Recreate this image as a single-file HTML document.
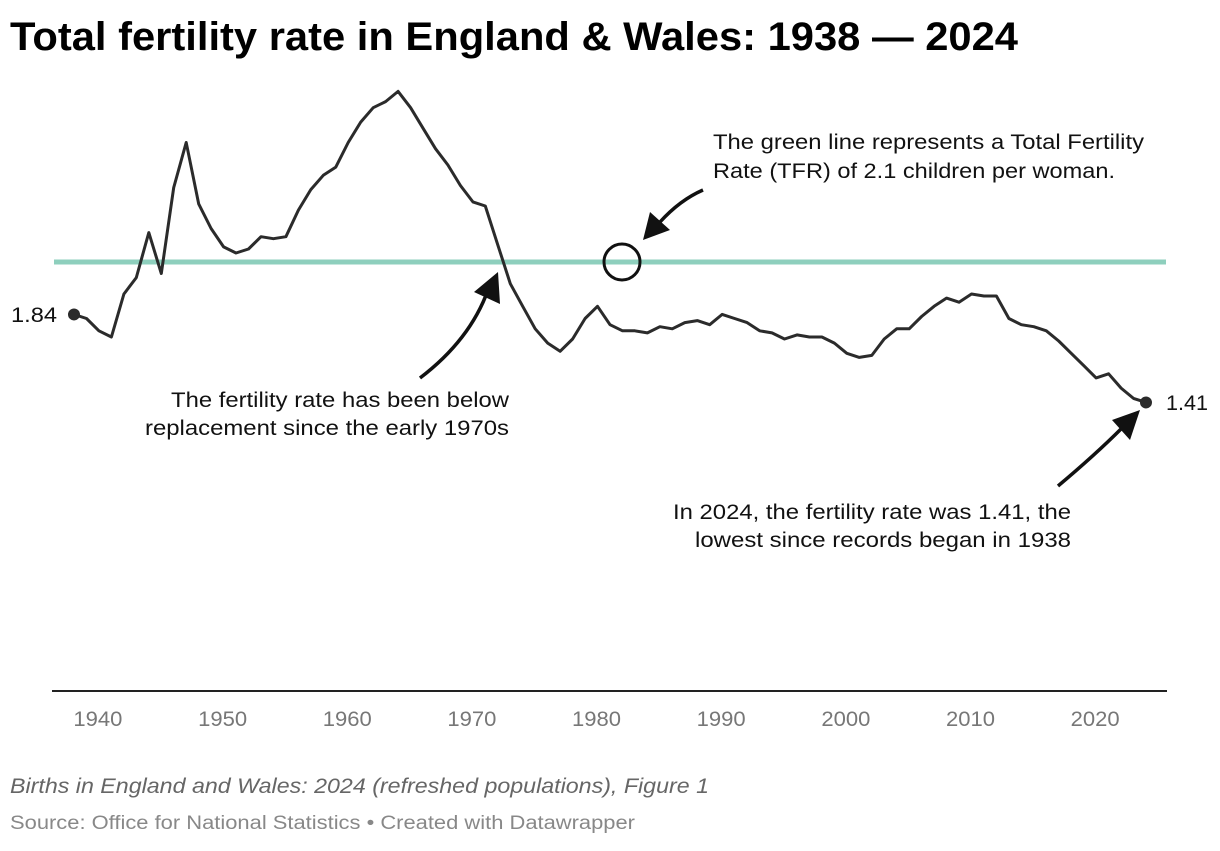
<!DOCTYPE html>
<html><head><meta charset="utf-8">
<style>
body{margin:0;background:#fff;width:1220px;height:846px;overflow:hidden;font-family:"Liberation Sans",Arial,sans-serif;}
svg text{font-family:"Liberation Sans",Arial,sans-serif;}
</style></head>
<body>
<svg width="1220" height="846">
<text x="10" y="50" font-size="40" font-weight="bold" fill="#000" textLength="1008" lengthAdjust="spacingAndGlyphs">Total fertility rate in England &amp; Wales: 1938 — 2024</text>
<g id="axis"></g>
<line x1="54" y1="262" x2="1166" y2="262" stroke="#8ecfbd" stroke-width="5"/>
<path id="series" fill="none" stroke="#2b2b2b" stroke-width="3" stroke-linejoin="round"/>
<g id="dots"></g>
<circle cx="622" cy="262" r="18" fill="none" stroke="#111" stroke-width="3"/>
<g fill="none" stroke="#111" stroke-width="3.5">
<path d="M703 190 Q680 200 660 222"/>
<path d="M420 378 Q470 340 488 290"/>
<path d="M1058 486 Q1095 455 1122 428"/>
</g>
<g fill="#111">
<polygon points="643,240 650,212 670,230"/>
<polygon points="498,272 500,304 474,292"/>
<polygon points="1140,410 1130,440 1112,420"/>
</g>
<g font-size="21" fill="#111" lengthAdjust="spacingAndGlyphs">
<text x="713" y="149" textLength="431" lengthAdjust="spacingAndGlyphs">The green line represents a Total Fertility</text>
<text x="713" y="178" textLength="402" lengthAdjust="spacingAndGlyphs">Rate (TFR) of 2.1 children per woman.</text>
<text x="171" y="407" textLength="338" lengthAdjust="spacingAndGlyphs">The fertility rate has been below</text>
<text x="145" y="435" textLength="364" lengthAdjust="spacingAndGlyphs">replacement since the early 1970s</text>
<text x="673" y="519" textLength="398" lengthAdjust="spacingAndGlyphs">In 2024, the fertility rate was 1.41, the</text>
<text x="695" y="547" textLength="376" lengthAdjust="spacingAndGlyphs">lowest since records began in 1938</text>
<text x="11" y="322" textLength="46" lengthAdjust="spacingAndGlyphs">1.84</text>
<text x="1166" y="410" textLength="42" lengthAdjust="spacingAndGlyphs">1.41</text>
</g>
<text x="10" y="793" font-size="21" font-style="italic" fill="#666" textLength="699" lengthAdjust="spacingAndGlyphs">Births in England and Wales: 2024 (refreshed populations), Figure 1</text>
<text x="10" y="829" font-size="19" fill="#888" textLength="625" lengthAdjust="spacingAndGlyphs">Source: Office for National Statistics • Created with Datawrapper</text>
</svg>
<script>
const years=[];for(let y=1938;y<=2024;y++)years.push(y);
const tfr=[1.84,1.82,1.76,1.73,1.94,2.02,2.24,2.04,2.46,2.68,2.38,2.26,2.17,2.14,2.16,2.22,2.21,2.22,2.35,2.45,2.52,2.56,2.68,2.78,2.85,2.88,2.93,2.85,2.75,2.65,2.57,2.47,2.39,2.37,2.18,1.99,1.88,1.77,1.70,1.66,1.72,1.82,1.88,1.79,1.76,1.76,1.75,1.78,1.77,1.80,1.81,1.79,1.84,1.82,1.80,1.76,1.75,1.72,1.74,1.73,1.73,1.70,1.65,1.63,1.64,1.72,1.77,1.77,1.83,1.88,1.92,1.90,1.94,1.93,1.93,1.82,1.79,1.78,1.76,1.71,1.65,1.59,1.53,1.55,1.48,1.43,1.41];
const ticks=[1940,1950,1960,1970,1980,1990,2000,2010,2020];
const X=y=>74+(y-1938)*12.465;
const Y=v=>691-v*204.65;
const ns="http://www.w3.org/2000/svg";
document.getElementById('series').setAttribute('d',tfr.map((v,i)=>(i?'L':'M')+X(years[i]).toFixed(1)+' '+Y(v).toFixed(1)).join(' '));
const ax=document.getElementById('axis');
const base=document.createElementNS(ns,'line');
base.setAttribute('x1',52);base.setAttribute('x2',1167);base.setAttribute('y1',691);base.setAttribute('y2',691);
base.setAttribute('stroke','#222');base.setAttribute('stroke-width','2');


ax.appendChild(base);
ticks.forEach(t=>{const tx=document.createElementNS(ns,'text');
tx.setAttribute('x',X(t)-1);tx.setAttribute('y',726);tx.setAttribute('text-anchor','middle');
tx.setAttribute('font-size','21');tx.setAttribute('fill','#777');
tx.setAttribute('textLength','49');tx.setAttribute('lengthAdjust','spacingAndGlyphs');
tx.textContent=t;


ax.appendChild(tx);});
const d=document.getElementById('dots');
[0,tfr.length-1].forEach(i=>{const c=document.createElementNS(ns,'circle');
c.setAttribute('cx',X(years[i]));c.setAttribute('cy',Y(tfr[i]));c.setAttribute('r',6);c.setAttribute('fill','#2b2b2b');


d.appendChild(c);});
</script>
</body></html>
